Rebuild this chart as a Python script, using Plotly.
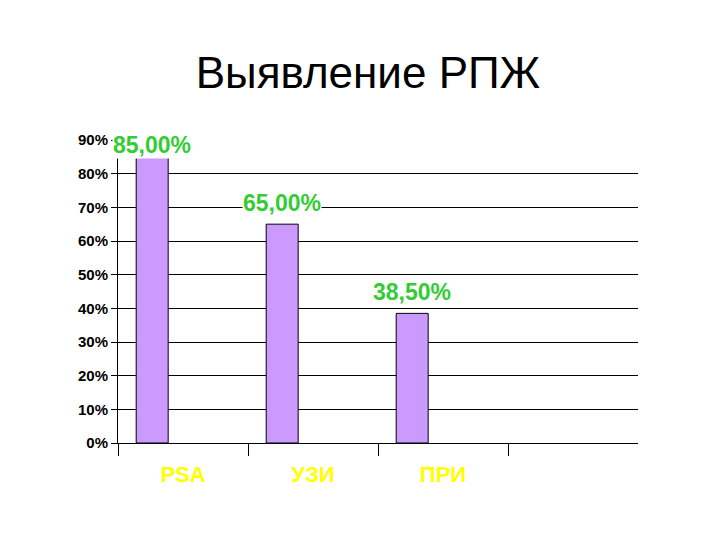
import plotly.graph_objects as go

# values
categories = ["PSA", "УЗИ", "ПРИ"]
detection = [0.85, 0.65, 0.385]
y_ticks = [0, 0.1, 0.2, 0.3, 0.4, 0.5, 0.6, 0.7, 0.8, 0.9]

fig = go.Figure()
fig.add_trace(go.Bar(
    x=categories, y=detection,
    width=0.246, offset=-0.36,
    marker=dict(color="#CC99FF", line=dict(color="black", width=1)),
    cliponaxis=False,
))

# data labels with a white box (they hide the gridlines behind them, as in the original)
for cat, val in zip(categories, detection):
    fig.add_annotation(
        x=cat, y=min(val, 0.823), xref="x", yref="y",
        xshift=-31, yshift=7, yanchor="bottom", xanchor="center",
        text=f"{val * 100:.2f}%".replace(".", ","), showarrow=False,
        bgcolor="white", borderpad=0,
        font=dict(family="Liberation Sans, Arial", size=23, color="#33CC33", weight="bold"),
    )

# page body adds an 8px offset, so margins are shifted to compensate
fig.update_layout(
    width=720, height=540,
    paper_bgcolor="white", plot_bgcolor="white",
    showlegend=False,
    margin=dict(l=110, r=90, t=132, b=105, autoexpand=False),
    title=dict(text="Выявление РПЖ", x=0.5, xanchor="center", y=0.88, yanchor="middle",
               font=dict(family="Liberation Sans, Arial", size=44, color="black")),
    font=dict(family="Liberation Sans, Arial", color="black"),
)
fig.update_yaxes(
    range=[0, 0.9], tickvals=y_ticks, tickformat=".0%",
    tickfont=dict(size=15, family="Liberation Sans, Arial", weight="bold"),
    showgrid=True, gridcolor="black", gridwidth=1,
    showline=True, linecolor="black", linewidth=1,
    ticks="outside", ticklen=6, tickcolor="black",
    zeroline=False,
)
fig.update_xaxes(
    type="category", categoryarray=categories, range=[-0.5, 3.5],
    tickson="boundaries", ticks="outside", ticklen=12, tickcolor="black",
    showline=True, linecolor="black", linewidth=1,
    tickfont=dict(size=22, color="#FFFF00", family="Liberation Sans, Arial", weight="bold"),
    ticklabelstandoff=12,
)

fig.write_html("out.html")
